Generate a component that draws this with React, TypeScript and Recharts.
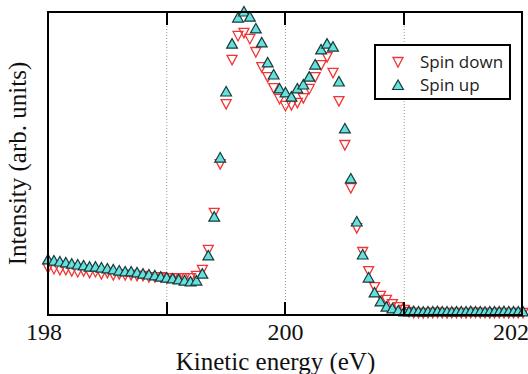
import { ReferenceLine, Scatter, ScatterChart, XAxis, YAxis } from 'recharts'

// photon energy of each point (eV): 0.05 eV steps up to 200.95, finer tail after
const energies = [
  198.0, 198.05, 198.1, 198.15, 198.2, 198.25, 198.3, 198.35, 198.4, 198.45,
  198.5, 198.55, 198.6, 198.65, 198.7, 198.75, 198.8, 198.85, 198.9, 198.95,
  199.0, 199.05, 199.1, 199.15, 199.2, 199.25, 199.3, 199.35, 199.4, 199.45,
  199.5, 199.55, 199.6, 199.65, 199.7, 199.75, 199.8, 199.85, 199.9, 199.95,
  200.0, 200.05, 200.1, 200.15, 200.2, 200.25, 200.3, 200.35, 200.4, 200.45,
  200.5, 200.55, 200.6, 200.65, 200.7, 200.75, 200.8, 200.85, 200.9, 200.95,
  201.0, 201.04, 201.08, 201.12, 201.16, 201.2, 201.24, 201.28, 201.32, 201.36,
  201.4, 201.44, 201.48, 201.52, 201.56, 201.6, 201.64, 201.68, 201.72, 201.76,
  201.8, 201.84, 201.88, 201.92, 201.96, 202.0,
]

const spinDown = [
  15.5, 15.2, 14.9, 14.9, 14.5, 14.2, 14.5, 13.9, 14.2, 13.5,
  13.9, 13.2, 13.5, 13.2, 13.2, 12.9, 12.9, 12.5, 12.5, 12.5,
  12.2, 12.2, 12.2, 12.2, 12.2, 12.9, 14.9, 21.5, 33.7, 49.8,
  69.6, 84.2, 92.1, 93.1, 91.1, 86.8, 81.8, 78.5, 74.9, 71.3,
  69.0, 69.3, 70.0, 71.6, 74.6, 78.5, 82.5, 85.1, 79.9, 70.6,
  56.1, 41.9, 28.7, 20.8, 14.5, 9.2, 6.3, 5.0, 3.6, 2.6,
  1.7, 1.0, 0.7, 0.7, 0.6, 0.7, 0.7, 0.8, 0.7, 0.6,
  0.7, 0.7, 0.7, 0.6, 0.7, 0.8, 0.7, 0.7, 0.6, 0.7,
  0.7, 0.7, 0.6, 0.7, 0.7, 0.7,
]

const spinUp = [
  18.2, 17.8, 17.5, 17.2, 16.8, 16.5, 16.2, 15.8, 15.8, 15.5,
  15.2, 14.9, 14.5, 14.2, 14.2, 13.9, 13.5, 13.2, 12.9, 12.5,
  12.2, 11.9, 11.6, 11.2, 10.9, 11.2, 13.5, 19.5, 32.3, 51.8,
  73.6, 89.4, 98.0, 100, 98.3, 94.4, 89.8, 83.2, 79.2, 74.6,
  73.3, 71.9, 74.6, 75.9, 78.5, 82.5, 87.5, 89.4, 88.4, 76.9,
  61.4, 44.9, 30.7, 19.8, 12.2, 7.3, 4.3, 2.6, 2.0, 1.3,
  1.0, 1.0, 1.1, 1.0, 0.9, 1.0, 1.0, 1.1, 1.0, 1.0,
  0.9, 1.0, 1.0, 1.0, 1.1, 1.0, 1.0, 0.9, 1.0, 1.0,
  1.0, 1.1, 1.0, 1.0, 1.0, 1.0,
]

const xDomain = [198, 202]
const yDomain = [0, 100]
const xTicks = [198, 199, 200, 201, 202]
const gridLines = [199, 200, 201]
const labelledTicks = [198, 200, 202]
const seriesNames = ['Spin down', 'Spin up']

const downData = energies.map((e, i) => ({ e, v: spinDown[i] }))
const upData = energies.map((e, i) => ({ e, v: spinUp[i] }))

const ink = '#000'
const red = '#f23434'
const cyan = '#66dfdd'
const serif = '"Liberation Serif", "Times New Roman", serif'
const W = 528
const H = 374
const margin = { top: 12, right: 5, bottom: 0, left: 47 }
const xAxisHeight = 59
const plotLeft = margin.left + 1
const plotRight = W - margin.right - 1
const plotBottom = H - xAxisHeight

function DownMark({ cx, cy }: { cx: number; cy: number }) {
  return <polygon points={`${cx - 5},${cy - 4.5} ${cx + 5},${cy - 4.5} ${cx},${cy + 5}`} fill="none" stroke={red} strokeWidth={1.3} />
}

function UpMark({ cx, cy }: { cx: number; cy: number }) {
  return <polygon points={`${cx},${cy - 5.5} ${cx - 5.4},${cy + 4} ${cx + 5.4},${cy + 4}`} fill={cyan} stroke="#173a3a" strokeWidth={1.2} />
}

// tick labels under the axis
function FrameTick({ x, y, payload }: any) {
  const v = payload.value
  const shift = v === 198 ? -4 : v === 202 ? -12 : 0
  if (!labelledTicks.includes(v)) return <g />
  return (
    <text x={x + shift} y={y + 25} textAnchor="middle" fontFamily={serif} fontSize={24} fill="#111">{v}</text>
  )
}

// box round the plot area with the inward ticks, laid over the chart
function Frame() {
  const span = xDomain[1] - xDomain[0]
  const tickLeft = (v: number) => plotLeft + ((v - xDomain[0]) / span) * (plotRight - plotLeft) - 1
  return (
    <div style={{ position: 'absolute', left: 0, top: 0, width: W, height: H, pointerEvents: 'none' }}>
      <div style={{ position: 'absolute', left: plotLeft - 1, top: margin.top - 1, width: plotRight - plotLeft + 2, height: plotBottom - margin.top + 2, boxSizing: 'border-box', border: `2px solid ${ink}` }} />
      {gridLines.map((g) => (
        <div key={g}>
          <div style={{ position: 'absolute', left: tickLeft(g), top: margin.top, width: 2, height: 13, background: ink }} />
          <div style={{ position: 'absolute', left: tickLeft(g), top: plotBottom - 13, width: 2, height: 13, background: ink }} />
        </div>
      ))}
    </div>
  )
}

function LegendBox() {
  return (
    <div style={{ position: 'absolute', left: 374, top: 44, width: 137, height: 56, boxSizing: 'border-box', border: `2px solid ${ink}`, background: '#fff', fontFamily: '"Open Sans", sans-serif', fontSize: 17, color: '#222' }}>
      {seriesNames.map((name, i) => (
        <div key={name} style={{ position: 'absolute', left: 15, top: 4 + i * 23, height: 24, display: 'flex', alignItems: 'center', whiteSpace: 'nowrap' }}>
          <svg width={14} height={14}>
            {i === 0 ? <DownMark cx={7} cy={7} /> : <UpMark cx={7} cy={7.5} />}
          </svg>
          <span style={{ marginLeft: 15, lineHeight: '24px' }}>{name}</span>
        </div>
      ))}
    </div>
  )
}

export default function App() {
  return (
    <div style={{ position: 'absolute', left: 0, top: 0, width: W, height: H, background: '#fff' }}>
      <ScatterChart width={W} height={H} margin={margin}>
        <XAxis
          dataKey="e"
          type="number"
          domain={xDomain}
          ticks={xTicks}
          interval={0}
          height={xAxisHeight}
          tickSize={0}
          tickMargin={0}
          tickLine={false}
          tick={<FrameTick />}
          axisLine={{ stroke: ink, strokeWidth: 2 }}
          label={({ viewBox }: any) => (
            <text x={viewBox.x + viewBox.width / 2 - 10} y={viewBox.y + 55} textAnchor="middle" fontFamily={serif} fontSize={25} fill="#111">
              Kinetic energy (eV)
            </text>
          )}
        />
        <YAxis
          dataKey="v"
          type="number"
          domain={yDomain}
          width={1}
          tick={false}
          tickLine={false}
          axisLine={{ stroke: ink, strokeWidth: 2 }}
          label={({ viewBox }: any) => {
            const cx = 26
            const cy = viewBox.y + viewBox.height / 2
            return (
              <text x={cx} y={cy} transform={`rotate(-90, ${cx}, ${cy})`} textAnchor="middle" fontFamily={serif} fontSize={25} fill="#111">
                Intensity (arb. units)
              </text>
            )
          }}
        />
        {gridLines.map((g) => (
          <ReferenceLine key={g} x={g} stroke="#9a9a9a" strokeWidth={1} strokeDasharray="1 2" />
        ))}
        <Scatter name="Spin down" data={downData} isAnimationActive={false} shape={(p: any) => <DownMark cx={p.cx} cy={p.cy} />} />
        <Scatter name="Spin up" data={upData} isAnimationActive={false} shape={(p: any) => <UpMark cx={p.cx} cy={p.cy} />} />
      </ScatterChart>
      <Frame />
      <LegendBox />
    </div>
  )
}
